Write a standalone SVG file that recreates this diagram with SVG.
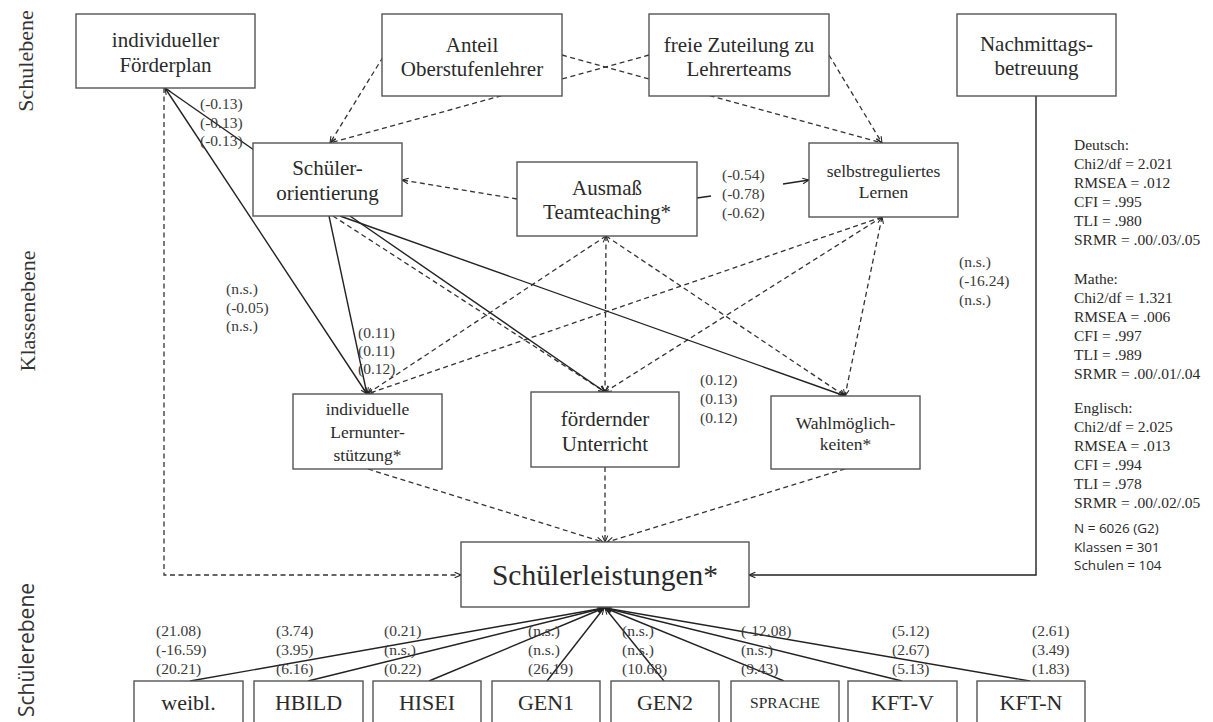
<svg xmlns="http://www.w3.org/2000/svg" width="1213" height="722" viewBox="0 0 1213 722">
<defs>
<marker id="ah" viewBox="0 0 10 10" refX="9" refY="5" markerWidth="8" markerHeight="8" markerUnits="userSpaceOnUse" orient="auto-start-reverse">
<path d="M1,1.5 L9,5 L1,8.5" fill="none" stroke="#222" stroke-width="1.3"/>
</marker>
</defs>
<style>
.box{fill:#fff;stroke:#555;stroke-width:1.4}
.t{font-family:"Liberation Serif",serif;fill:#2a2a2a;text-anchor:middle}
.big{font-size:21px}
.sm{font-size:17.5px}
.c{font-family:"Liberation Serif",serif;fill:#3a3a3a;font-size:15.5px}
.st{font-family:"Liberation Serif",serif;fill:#2a2a2a;font-size:15.5px}
.ss{font-family:"Open Sans","Noto Sans",sans-serif;fill:#2a2a2a;font-size:13.5px}
.lv{font-family:"Liberation Serif",serif;fill:#333;font-size:22px;text-anchor:middle}
.lvs{font-family:"Open Sans","Noto Sans",sans-serif;fill:#333;font-size:21px;text-anchor:middle}
.d{fill:none;stroke:#333;stroke-width:1.3;stroke-dasharray:5,3.5}
.s{fill:none;stroke:#222;stroke-width:1.4}
.bt{font-family:"Liberation Serif",serif;fill:#2a2a2a;font-size:22px;text-anchor:middle}
</style>

<g id="levels">
<text class="lv" transform="translate(33,61) rotate(-90)">Schulebene</text>
<text class="lv" transform="translate(35,311) rotate(-90)">Klassenebene</text>
<text class="lvs" transform="translate(34,650) rotate(-90)">Schülerebene</text>
</g>

<g id="connectors">
<path class="d" d="M383,57 L330,143" marker-end="url(#ah)"/>
<path class="d" d="M649,55 L330,143" marker-end="url(#ah)"/>
<path class="d" d="M562,55 L882,143" marker-end="url(#ah)"/>
<path class="d" d="M829,55 L882,143" marker-end="url(#ah)"/>
<path class="d" d="M517,199 L402,180" marker-end="url(#ah)"/>
<path class="d" d="M606,236 L367,394" marker-end="url(#ah)"/>
<path class="d" d="M606,236 L605,392" marker-start="url(#ah)" marker-end="url(#ah)"/>
<path class="d" d="M606,236 L845,396" marker-end="url(#ah)"/>
<path class="d" d="M882,217 L367,394" marker-end="url(#ah)"/>
<path class="d" d="M882,217 L605,392" marker-end="url(#ah)"/>
<path class="d" d="M882,217 L845,396" marker-start="url(#ah)" marker-end="url(#ah)"/>
<path class="d" d="M333,216 L605,392" marker-end="url(#ah)"/>
<path class="d" d="M368,469 L603,542" marker-end="url(#ah)"/>
<path class="d" d="M605,467 L605,542" marker-end="url(#ah)"/>
<path class="d" d="M845,469 L607,542" marker-end="url(#ah)"/>
<path class="d" d="M164,88 L164,575 L461,575" marker-end="url(#ah)"/>
<path class="s" d="M165,88 L254,150"/>
<path class="s" d="M165,88 L367,394" marker-start="url(#ah)" marker-end="url(#ah)"/>
<path class="s" d="M329,216 L367,394" marker-end="url(#ah)"/>
<path class="s" d="M350,216 L605,392" marker-end="url(#ah)"/>
<path class="s" d="M340,216 L845,396" marker-end="url(#ah)"/>
<path class="s" d="M697,198 L711,196"/>
<path class="s" d="M783,184 L809,180" marker-end="url(#ah)"/>
<path class="s" d="M1036,96 L1036,575 L749,575" marker-end="url(#ah)"/>
<path class="s" d="M190,681 L604,608" marker-end="url(#ah)"/>
<path class="s" d="M308,681 L604,608" marker-end="url(#ah)"/>
<path class="s" d="M429,681 L604,608" marker-end="url(#ah)"/>
<path class="s" d="M547,681 L604,608" marker-end="url(#ah)"/>
<path class="s" d="M664,681 L605,608" marker-end="url(#ah)"/>
<path class="s" d="M784,681 L605,608" marker-end="url(#ah)"/>
<path class="s" d="M902,681 L605,608" marker-end="url(#ah)"/>
<path class="s" d="M1030,681 L605,608" marker-end="url(#ah)"/>
</g>

<g id="n-foerderplan">
<rect class="box" x="76" y="14" width="179" height="74"/>
<text class="t big" x="165.5" y="47">individueller</text>
<text class="t big" x="165.5" y="72">Förderplan</text>
</g>
<g id="n-anteil">
<rect class="box" x="382" y="14" width="180" height="82"/>
<text class="t big" x="472" y="52">Anteil</text>
<text class="t big" x="472" y="76">Oberstufenlehrer</text>
</g>
<g id="n-freie">
<rect class="box" x="649" y="14" width="180" height="82"/>
<text class="t big" x="739" y="52">freie Zuteilung zu</text>
<text class="t big" x="739" y="76">Lehrerteams</text>
</g>
<g id="n-nachmittag">
<rect class="box" x="957" y="14" width="159" height="82"/>
<text class="t big" x="1036.5" y="51">Nachmittags-</text>
<text class="t big" x="1036.5" y="75">betreuung</text>
</g>
<g id="n-schuelerorientierung">
<rect class="box" x="253" y="143" width="149" height="73"/>
<text class="t big" x="327.5" y="175">Schüler-</text>
<text class="t big" x="327.5" y="200">orientierung</text>
</g>
<g id="n-teamteaching">
<rect class="box" x="517" y="162" width="180" height="74"/>
<text class="t big" x="607" y="195">Ausmaß</text>
<text class="t big" x="607" y="219">Teamteaching*</text>
</g>
<g id="n-selbstreg">
<rect class="box" x="809" y="143" width="149" height="74"/>
<text class="t sm" x="883.5" y="177">selbstreguliertes</text>
<text class="t sm" x="883.5" y="198">Lernen</text>
</g>
<g id="n-lernunterstuetzung">
<rect class="box" x="293" y="394" width="149" height="75"/>
<text class="t sm" x="367.5" y="415">individuelle</text>
<text class="t sm" x="367.5" y="438">Lernunter-</text>
<text class="t sm" x="367.5" y="461">stützung*</text>
</g>
<g id="n-foerdernd">
<rect class="box" x="531" y="392" width="148" height="75"/>
<text class="t big" x="605" y="426">fördernder</text>
<text class="t big" x="605" y="451">Unterricht</text>
</g>
<g id="n-wahl">
<rect class="box" x="771" y="396" width="149" height="73"/>
<text class="t sm" x="845.5" y="429">Wahlmöglich-</text>
<text class="t sm" x="845.5" y="450">keiten*</text>
</g>
<g id="n-leistungen">
<rect class="box" x="461" y="542" width="288" height="65"/>
<text class="t" style="font-size:29.5px" x="605" y="585">Schülerleistungen*</text>
</g>

<g id="n-weibl"><rect class="box" x="134" y="681" width="109" height="50"/><text class="bt" x="188.5" y="710">weibl.</text></g>
<g id="n-hbild"><rect class="box" x="254" y="681" width="109" height="50"/><text class="bt" x="308.5" y="710">HBILD</text></g>
<g id="n-hisei"><rect class="box" x="373" y="681" width="108" height="50"/><text class="bt" x="427" y="710">HISEI</text></g>
<g id="n-gen1"><rect class="box" x="492" y="681" width="108" height="50"/><text class="bt" x="546" y="710">GEN1</text></g>
<g id="n-gen2"><rect class="box" x="611" y="681" width="108" height="50"/><text class="bt" x="665" y="710">GEN2</text></g>
<g id="n-sprache"><rect class="box" x="731" y="681" width="108" height="50"/><text class="bt" style="font-size:15.5px" x="785" y="708">SPRACHE</text></g>
<g id="n-kftv"><rect class="box" x="848" y="681" width="109" height="50"/><text class="bt" x="902.5" y="710">KFT-V</text></g>
<g id="n-kftn"><rect class="box" x="977" y="681" width="108" height="50"/><text class="bt" x="1031" y="710">KFT-N</text></g>

<g id="coefficients">
<text class="c" x="200" y="109">(-0.13)</text>
<text class="c" x="200" y="128">(-0.13)</text>
<text class="c" x="200" y="146">(-0.13)</text>
<text class="c" x="722" y="180">(-0.54)</text>
<text class="c" x="722" y="199">(-0.78)</text>
<text class="c" x="722" y="218">(-0.62)</text>
<text class="c" x="226" y="294">(n.s.)</text>
<text class="c" x="226" y="313">(-0.05)</text>
<text class="c" x="226" y="331">(n.s.)</text>
<text class="c" x="358" y="338">(0.11)</text>
<text class="c" x="358" y="356">(0.11)</text>
<text class="c" x="358" y="374">(0.12)</text>
<text class="c" x="700" y="385">(0.12)</text>
<text class="c" x="700" y="404">(0.13)</text>
<text class="c" x="700" y="423">(0.12)</text>
<text class="c" x="959" y="267">(n.s.)</text>
<text class="c" x="959" y="286">(-16.24)</text>
<text class="c" x="959" y="305">(n.s.)</text>

<text class="c" x="156" y="636">(21.08)</text><text class="c" x="156" y="655">(-16.59)</text><text class="c" x="156" y="674">(20.21)</text>
<text class="c" x="276" y="636">(3.74)</text><text class="c" x="276" y="655">(3.95)</text><text class="c" x="276" y="674">(6.16)</text>
<text class="c" x="384" y="636">(0.21)</text><text class="c" x="384" y="655">(n.s.)</text><text class="c" x="384" y="674">(0.22)</text>
<text class="c" x="528" y="636">(n.s.)</text><text class="c" x="528" y="655">(n.s.)</text><text class="c" x="528" y="674">(26.19)</text>
<text class="c" x="622" y="636">(n.s.)</text><text class="c" x="622" y="655">(n.s.)</text><text class="c" x="622" y="674">(10.68)</text>
<text class="c" x="741" y="636">(-12.08)</text><text class="c" x="741" y="655">(n.s.)</text><text class="c" x="741" y="674">(9.43)</text>
<text class="c" x="892" y="636">(5.12)</text><text class="c" x="892" y="655">(2.67)</text><text class="c" x="892" y="674">(5.13)</text>
<text class="c" x="1032" y="636">(2.61)</text><text class="c" x="1032" y="655">(3.49)</text><text class="c" x="1032" y="674">(1.83)</text>
</g>

<g id="fit-stats">
<text class="st" x="1074" y="150">Deutsch:</text>
<text class="st" x="1074" y="169">Chi2/df = 2.021</text>
<text class="st" x="1074" y="188">RMSEA = .012</text>
<text class="st" x="1074" y="207">CFI = .995</text>
<text class="st" x="1074" y="226">TLI = .980</text>
<text class="st" x="1074" y="245">SRMR = .00/.03/.05</text>
<text class="st" x="1074" y="284">Mathe:</text>
<text class="st" x="1074" y="303">Chi2/df = 1.321</text>
<text class="st" x="1074" y="322">RMSEA = .006</text>
<text class="st" x="1074" y="341">CFI = .997</text>
<text class="st" x="1074" y="360">TLI = .989</text>
<text class="st" x="1074" y="379">SRMR = .00/.01/.04</text>
<text class="st" x="1074" y="413">Englisch:</text>
<text class="st" x="1074" y="432">Chi2/df = 2.025</text>
<text class="st" x="1074" y="451">RMSEA = .013</text>
<text class="st" x="1074" y="470">CFI = .994</text>
<text class="st" x="1074" y="489">TLI = .978</text>
<text class="st" x="1074" y="508">SRMR = .00/.02/.05</text>
<text class="ss" x="1074" y="533">N = 6026 (G2)</text>
<text class="ss" x="1074" y="552">Klassen = 301</text>
<text class="ss" x="1074" y="570">Schulen = 104</text>
</g>
</svg>
